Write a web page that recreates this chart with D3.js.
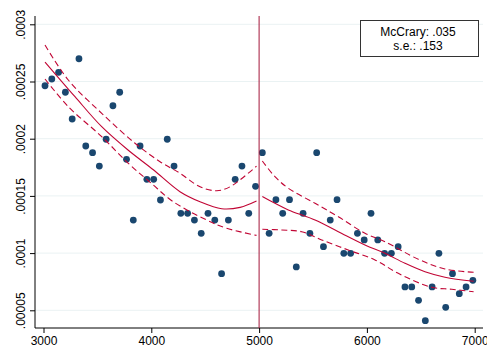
<!DOCTYPE html>
<html>
<head>
<meta charset="utf-8">
<script src="https://cdn.jsdelivr.net/npm/d3@7"></script>
<style>
  body { margin: 0; background: #fff; }
  text { font-family: "Liberation Sans", Arial, sans-serif; }
</style>
</head>
<body>
<div id="chart"></div>
<script>
// bin midpoints and density of each bin
var binX = [3014, 3077, 3140, 3203, 3266, 3329, 3392, 3455, 3518, 3581, 3644, 3707, 3770, 3833, 3896, 3959,
  4022, 4085, 4148, 4211, 4274, 4337, 4400, 4463, 4526, 4589, 4652, 4715, 4778, 4841, 4904, 4967,
  5030, 5093, 5156, 5219, 5282, 5345, 5408, 5471, 5534, 5597, 5660, 5723, 5786, 5849, 5912, 5975,
  6038, 6101, 6164, 6227, 6290, 6353, 6416, 6479, 6542, 6605, 6668, 6731, 6794, 6857, 6920, 6983];
var binDensity = [.0002463, .0002522, .0002580, .0002406, .0002172, .0002699, .0001936, .0001878,
  .0001761, .0001995, .0002288, .0002406, .0001820, .0001289, .0001936, .0001645,
  .0001645, .0001464, .0001995, .0001761, .0001348, .0001348, .0001289, .0001173,
  .0001348, .0001289, .0000820, .0001289, .0001645, .0001761, .0001348, .0001584,
  .0001878, .0001173, .0001467, .0001348, .0001467, .0000879, .0001348, .0001173,
  .0001878, .0001056, .0001289, .0001467, .0000998, .0000998, .0001173, .0001115,
  .0001348, .0001115, .0000998, .0000998, .0001056, .0000704, .0000704, .0000587,
  .0000409, .0000704, .0000998, .0000526, .0000820, .0000645, .0000704, .0000762];

// local linear fit with confidence band, below the cutoff
var leftX     = [3014, 3292, 3540, 3784, 4022, 4266, 4452, 4653, 4824, 4976];
var leftFit   = [.000267, .0002367, .0002105, .0001901, .0001726, .0001537, .0001449, .0001388, .0001400, .0001455];
var leftUpX   = [3014, 3230, 3540, 3849, 4081, 4266, 4452, 4607, 4731, 4976];
var leftUp    = [.0002819, .0002513, .0002222, .000196, .0001799, .0001698, .000158, .0001545, .000158, .000176];
var leftLoX   = [3014, 3230, 3540, 3787, 4000, 4204, 4514, 4699, 4976];
var leftLo    = [.0002522, .000228, .0002018, .0001785, .0001610, .0001449, .0001289, .0001217, .0001155];

// and above the cutoff
var rightX    = [5030, 5147, 5271, 5519, 5735, 5982, 6168, 6353, 6539, 6724, 6990];
var rightFit  = [.0001495, .0001435, .0001377, .0001289, .0001187, .0001071, .0000998, .0000911, .0000837, .0000789, .0000754];
var rightUpX  = [5030, 5147, 5271, 5519, 5735, 5982, 6168, 6477, 6724, 6990];
var rightUp   = [.0001805, .0001668, .0001567, .0001435, .0001318, .0001173, .00011, .0000946, .0000861, .0000832];
var rightLoX  = [5030, 5210, 5395, 5581, 5827, 6075, 6291, 6601, 6787, 6990];
var rightLo   = [.0001208, .0001202, .0001187, .0001115, .0001027, .000094, .0000823, .0000701, .0000684, .0000662];

var xTicks = [3000, 4000, 5000, 6000, 7000];
var yTicks = [.00005, .0001, .00015, .0002, .00025, .0003];
var yTickLabels = [".00005", ".0001", ".00015", ".0002", ".00025", ".0003"];
var cutoff = 5000;
var legendLines = ["McCrary: .035", "s.e.: .153"];

var W = 487, H = 353;
var frame = {left: 35, right: 483, top: 16, bottom: 328};
var lineColor = "#c10534";
var dotColor = "#1a476f";

var svg = d3.select("#chart").append("svg")
  .attr("width", W)
  .attr("height", H);

var x = d3.scaleLinear().domain([3000, 7000]).range([43.5, 474.7]);
var y = d3.scaleLinear().domain([.00005, .0003]).range([310.3, 24.3]);

// gridlines
svg.append("g").selectAll("line")
  .data(yTicks)
  .enter().append("line")
  .attr("x1", frame.left).attr("x2", frame.right)
  .attr("y1", function(d) { return y(d); })
  .attr("y2", function(d) { return y(d); })
  .attr("stroke", "#eaf2f3")
  .attr("stroke-width", 1);

// y axis
var yAxis = svg.append("g")
  .attr("transform", "translate(" + frame.left + ",0)")
  .call(d3.axisLeft(y).tickValues(yTicks).tickSize(5)
    .tickFormat(function(d, i) { return yTickLabels[i]; }));
yAxis.select(".domain").remove();
yAxis.selectAll(".tick line").attr("stroke", "#000");
yAxis.selectAll(".tick text")
  .attr("transform", "rotate(-90)")
  .attr("x", 0).attr("y", -10.5)
  .attr("dy", 0)
  .attr("text-anchor", "middle")
  .attr("font-size", 12)
  .attr("fill", "#000");
svg.append("line")
  .attr("x1", frame.left).attr("x2", frame.left)
  .attr("y1", frame.top).attr("y2", frame.bottom)
  .attr("stroke", "#000").attr("stroke-width", 1);

// x axis
var xAxis = svg.append("g")
  .attr("transform", "translate(0," + frame.bottom + ")")
  .call(d3.axisBottom(x).tickValues(xTicks).tickSize(5).tickFormat(d3.format("d")));
xAxis.select(".domain").remove();
xAxis.selectAll(".tick line").attr("stroke", "#000");
xAxis.selectAll(".tick text")
  .attr("y", 17).attr("dy", 0)
  .attr("font-size", 12)
  .attr("fill", "#000");
svg.append("line")
  .attr("x1", frame.left).attr("x2", frame.right)
  .attr("y1", frame.bottom).attr("y2", frame.bottom)
  .attr("stroke", "#000").attr("stroke-width", 1);

// bins
svg.append("g").selectAll("circle")
  .data(binX)
  .enter().append("circle")
  .attr("cx", function(d) { return x(d); })
  .attr("cy", function(d, i) { return y(binDensity[i]); })
  .attr("r", 3.4)
  .attr("fill", dotColor);

// cutoff line
svg.append("line")
  .attr("x1", x(cutoff)).attr("x2", x(cutoff))
  .attr("y1", frame.top).attr("y2", frame.bottom)
  .attr("stroke", "#a3163a").attr("stroke-width", 1);

// fitted density and CI
var line = d3.line()
  .x(function(d) { return x(d[0]); })
  .y(function(d) { return y(d[1]); })
  .curve(d3.curveCatmullRom);

function drawCurve(xs, ys, dashed) {
  svg.append("path")
    .datum(d3.zip(xs, ys))
    .attr("d", line)
    .attr("fill", "none")
    .attr("stroke", lineColor)
    .attr("stroke-width", 1.1)
    .attr("stroke-dasharray", dashed ? "6,3.5" : null);
}
drawCurve(leftX, leftFit, false);
drawCurve(leftUpX, leftUp, true);
drawCurve(leftLoX, leftLo, true);
drawCurve(rightX, rightFit, false);
drawCurve(rightUpX, rightUp, true);
drawCurve(rightLoX, rightLo, true);

// legend box
svg.append("rect")
  .attr("x", 360.5).attr("y", 20.5)
  .attr("width", 118).attr("height", 36)
  .attr("fill", "#fff")
  .attr("stroke", "#333")
  .attr("stroke-width", 1);
svg.append("g").selectAll("text")
  .data(legendLines)
  .enter().append("text")
  .attr("x", 418)
  .attr("y", function(d, i) { return 36 + i * 13.5; })
  .attr("text-anchor", "middle")
  .attr("font-size", 12)
  .attr("fill", "#000")
  .text(function(d) { return d; });
</script>
</body>
</html>
